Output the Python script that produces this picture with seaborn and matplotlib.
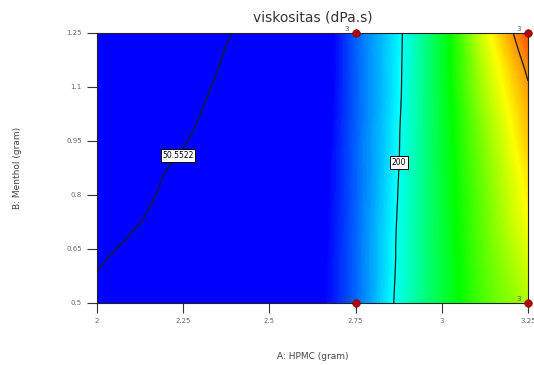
import numpy as np
import pandas as pd
import seaborn as sns
import matplotlib.pyplot as plt
import matplotlib.tri as mtri
from matplotlib.colors import LinearSegmentedColormap, Normalize

# grid nodes of the response surface
hpmc = [2.0, 2.125, 2.25, 2.375, 2.5, 2.625, 2.75, 2.875, 3.0, 3.125, 3.25]
menthol = [0.5, 0.65, 0.8, 0.95, 1.1, 1.25]

# viskositas estimates, one row per menthol value
visc_050 = [56, 68, 84, 100, 115, 128, 160, 205, 245, 280, 305]
visc_065 = [47, 56, 73, 89, 104, 125, 160, 203, 246, 284, 316]
visc_080 = [38, 45, 62, 77, 93, 122, 159, 201, 247, 288, 327]
visc_095 = [30, 37, 49, 66, 82, 118, 159, 199, 248, 294, 337]
visc_110 = [22, 30, 41, 56, 72, 114, 158, 197, 249, 304, 348]
visc_125 = [15, 24, 35, 49, 62, 110, 158, 196, 250, 316, 366]

contour_levels = [50.5522, 200, 349.448]
labelled_levels = [50.5522, 200]

# design points
design_hpmc = [2.75, 2.75, 3.25, 3.25]
design_menthol = [1.25, 0.5, 1.25, 0.5]
design_reps = ["3", "3", "3", "3"]

x_ticks = [2, 2.25, 2.5, 2.75, 3, 3.25]
y_ticks = [0.5, 0.65, 0.8, 0.95, 1.1, 1.25]

Z = np.array([visc_050, visc_065, visc_080, visc_095, visc_110, visc_125], dtype=float)
X, Y = np.meshgrid(hpmc, menthol)

# smooth surface through the nodes with matplotlib's cubic triangulation
tri = mtri.Triangulation(X.ravel(), Y.ravel())
interp = mtri.CubicTriInterpolator(tri, Z.ravel(), kind='geom')
xf, yf = np.meshgrid(np.linspace(2, 3.25, 300), np.linspace(0.5, 1.25, 200))
Zf = interp(xf, yf)

sns.set_theme(style="white")
plt.rcParams['font.family'] = ['DejaVu Sans']

fig = plt.figure(figsize=(5.34, 3.65), dpi=100)
ax = fig.add_axes([0.1816, 0.1699, 0.8072, 0.7397])

cmap = LinearSegmentedColormap.from_list(
    "design_expert", ["#0000ff", "#00ffff", "#00ff00", "#ffff00", "#ff0000"])
norm = Normalize(vmin=135, vmax=387)

fill_levels = np.linspace(135, 387, 160)
ax.contourf(xf, yf, Zf, levels=fill_levels, cmap=cmap, norm=norm, extend='both', antialiased=False)

cs = ax.contour(xf, yf, Zf, levels=contour_levels, colors='#1a1a1a', linewidths=0.9)
labels = ax.clabel(cs, levels=labelled_levels, inline=False, fontsize=5.5,
                   fmt={50.5522: "50.5522", 200: "200"},
                   manual=[(2.24, 0.906), (2.879, 0.89)])
for t in labels:
    t.set_rotation(0)
    t.set_color('black')
    t.set_bbox(dict(facecolor='white', edgecolor='black', pad=1.2, linewidth=0.7))
    t.set_zorder(5)

pts = pd.DataFrame({"A": design_hpmc, "B": design_menthol, "n": design_reps})
sns.scatterplot(data=pts, x="A", y="B", color="#b30000", edgecolor="#7a0000",
                s=30, marker="o", ax=ax, zorder=6, clip_on=False, legend=False)
for _, r in pts.iterrows():
    ax.annotate(r["n"], (r["A"], r["B"]), xytext=(-5, 1), textcoords="offset points",
                fontsize=5, color="#555555", ha="right", va="bottom", zorder=6,
                annotation_clip=False)

ax.set_xlim(2, 3.25)
ax.set_ylim(0.5, 1.25)
ax.set_xticks(x_ticks)
ax.set_xticklabels(["2", "2.25", "2.5", "2.75", "3", "3.25"])
ax.set_yticks(y_ticks)
ax.set_yticklabels(["0.5", "0.65", "0.8", "0.95", "1.1", "1.25"])
ax.tick_params(axis='both', direction='out', length=7, width=0.8, color='#333333',
               labelsize=5, labelcolor='#666666', bottom=True, left=True, pad=4)

for s in ax.spines.values():
    s.set_color('#222222')
    s.set_linewidth(0.8)

ax.set_title("viskositas (dPa.s)", fontsize=10, color='#333333', pad=8)
ax.set_xlabel("A: HPMC (gram)", fontsize=6.5, color='#444444', labelpad=20)
ax.set_ylabel("B: Menthol (gram)", fontsize=6.5, color='#444444', labelpad=32)

fig.savefig("out.png", dpi=100)
